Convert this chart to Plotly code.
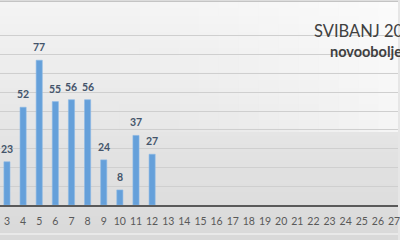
import plotly.graph_objects as go

days = list(range(1, 32))
values = [None, None, 23, 52, 77, 55, 56, 56, 24, 8, 37, 27] + [None] * 19
tick_labels = [str(d) for d in days]
title_text = "SVIBANJ 2020."
subtitle_text = "novooboljeli"

fig = go.Figure()
fig.add_trace(go.Bar(
    x=days, y=values, width=0.38,
    marker=dict(color="#65a0da", line=dict(color="#8bb8e6", width=0.6)),
    hoverinfo="skip",
))

# background gradient bands
shapes = []
n = 30
top = (0xf4, 0xf4, 0xf4)
bot = (0xd9, 0xd9, 0xd9)
for i in range(n):
    t = i / (n - 1)
    c = tuple(int(round(top[k] + (bot[k] - top[k]) * t)) for k in range(3))
    shapes.append(dict(type="rect", xref="paper", yref="paper",
                       x0=0, x1=1, y0=1 - (i + 1) / n, y1=1 - i / n,
                       fillcolor="rgb(%d,%d,%d)" % c, line=dict(width=0), layer="below"))
m = 20
for j in range(m):
    t = j / (m - 1)
    shapes.append(dict(type="rect", xref="paper", yref="paper",
                       x0=j / m, x1=(j + 1) / m, y0=0.45, y1=1,
                       fillcolor="rgba(255,255,255,%.3f)" % (0.6 * t * t),
                       line=dict(width=0), layer="below"))
shapes.append(dict(type="line", xref="paper", yref="paper", x0=0, x1=1, y0=0.995, y1=0.995,
                   line=dict(color="#c4c4c4", width=1.5)))
shapes.append(dict(type="line", xref="paper", yref="paper", x0=0, x1=1, y0=0.025, y1=0.025,
                   line=dict(color="#eeeeee", width=1.5)))

annotations = []
for d, v in zip(days, values):
    if v is not None:
        annotations.append(dict(x=d, y=v, xref="x", yref="y", text="<b>%d</b>" % v,
                                showarrow=False, yanchor="bottom", yshift=5,
                                font=dict(family="Lato", size=10.5, color="#44546a")))
annotations.append(dict(x=314 / 400, y=1 - 31 / 240, xref="paper", yref="paper",
                        text=title_text, showarrow=False, xanchor="left", yanchor="middle",
                        font=dict(family="Lato", size=16.5, color="#404040")))
annotations.append(dict(x=330 / 400, y=1 - 51 / 240, xref="paper", yref="paper",
                        text="<b>" + subtitle_text + "</b>", showarrow=False,
                        xanchor="left", yanchor="middle",
                        font=dict(family="Lato", size=14.5, color="#404040")))

fig.update_layout(
    width=400, height=240,
    margin=dict(l=0, r=0, t=0, b=0),
    paper_bgcolor="#e6e6e6", plot_bgcolor="rgba(0,0,0,0)",
    showlegend=False, shapes=shapes, annotations=annotations,
    xaxis=dict(range=[3 - 7 / 16.2, 27 + 4 / 16.2], tickmode="array",
               tickvals=days, ticktext=tick_labels, showgrid=False,
               showline=True, linecolor="#595959", linewidth=1.5,
               ticks="", ticklabelstandoff=6, ticklabeloverflow="allow",
               tickfont=dict(family="Lato", size=10.5, color="#595959"),
               domain=[0, 1]),
    yaxis=dict(range=[0, 100], dtick=10, showticklabels=False,
               gridcolor="#cfcfcf", gridwidth=1, zeroline=False,
               domain=[35 / 240, 223 / 240]),
)

fig.write_html("out.html")
